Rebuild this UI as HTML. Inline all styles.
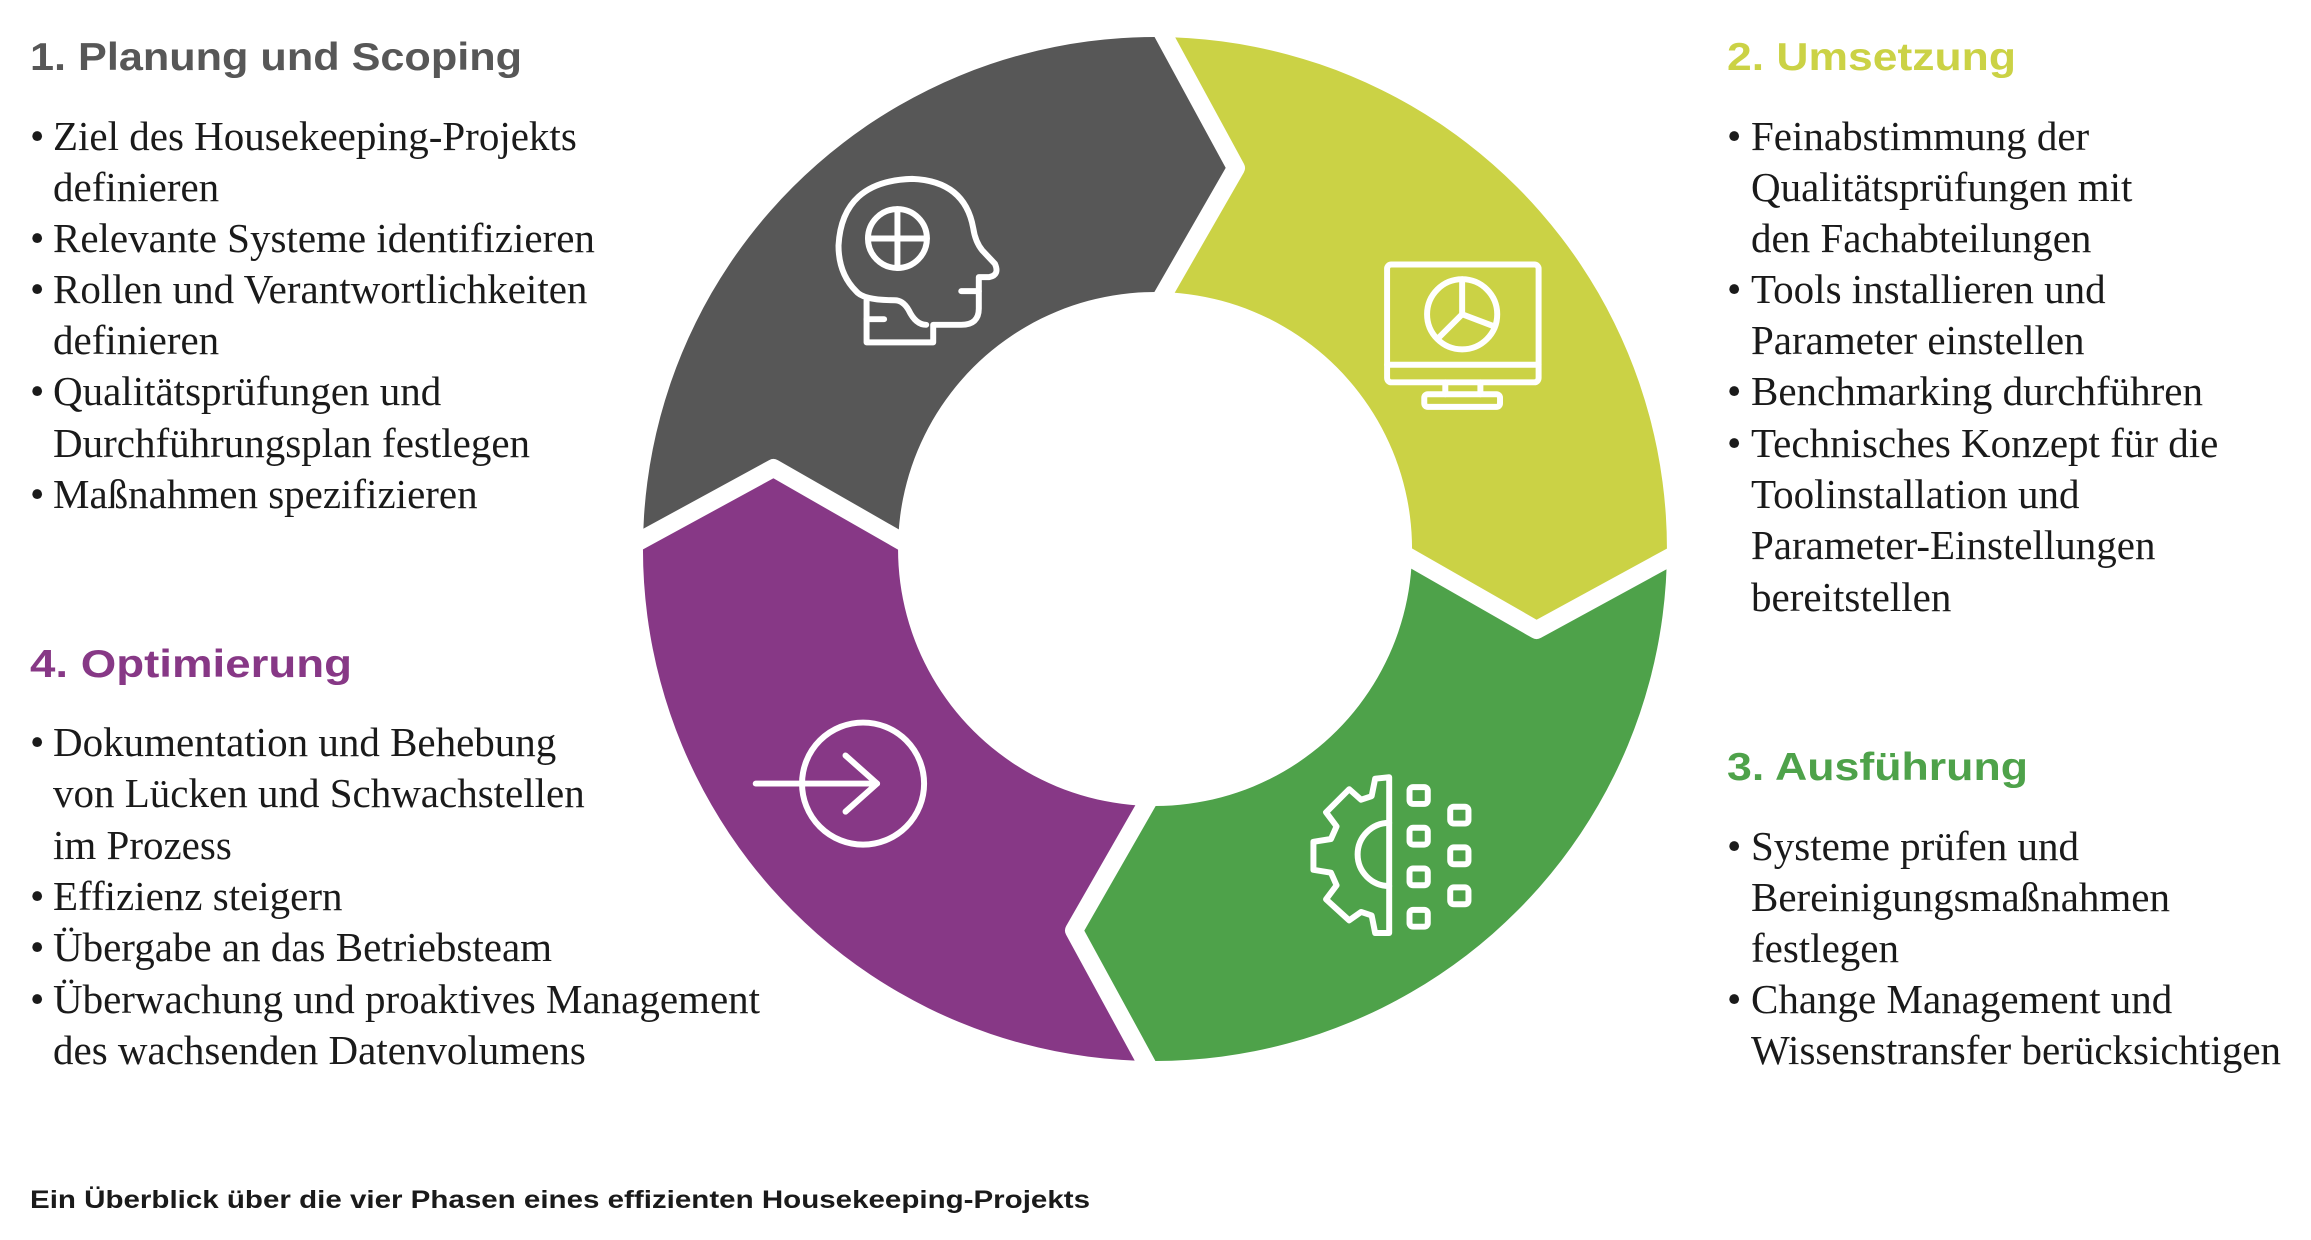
<!DOCTYPE html>
<html><head><meta charset="utf-8"><style>
html,body{margin:0;padding:0;background:#fff;width:2311px;height:1240px;overflow:hidden}
svg{display:block}
.h{font-family:"Liberation Sans",sans-serif;font-weight:bold;font-size:39px}
.b{font-family:"Liberation Serif",serif;font-size:41px;fill:#1a1a1a}
.c{font-family:"Liberation Sans",sans-serif;font-weight:bold;font-size:25px;fill:#1a1a1a}
</style></head><body>
<svg width="2311" height="1240" viewBox="0 0 2311 1240" xmlns="http://www.w3.org/2000/svg">
<defs><clipPath id="ring"><path clip-rule="evenodd" d="M1155,37 A512,512 0 1 1 1154.9,37 Z M1155,292 A257,257 0 1 0 1155.1,292 Z"/></clipPath></defs>
<g clip-path="url(#ring)">
<path fill="#575757" d="M915,549 L773.5,468 L625,549 A530,530 0 0 1 1155,19 L1236,168 L1155,309 A240,240 0 0 0 915,549 Z"/>
<path fill="#cbd245" d="M1155,309 L1236,168 L1155,19 A530,530 0 0 1 1685,549 L1536.5,630 L1395,549 A240,240 0 0 0 1155,309 Z"/>
<path fill="#4ea24a" d="M1395,549 L1536.5,630 L1685,549 A530,530 0 0 1 1155,1079 L1074,930.5 L1155,789 A240,240 0 0 0 1395,549 Z"/>
<path fill="#873886" d="M1155,789 L1074,930.5 L1155,1079 A530,530 0 0 1 625,549 L773.5,468 L915,549 A240,240 0 0 0 1155,789 Z"/>
</g>
<g fill="none" stroke="#fff" stroke-width="18" stroke-linejoin="round">
<polyline points="1155,309 1236,168 1155,19"/>
<polyline points="1395,549 1536.5,630 1685,549"/>
<polyline points="1155,789 1074,930.5 1155,1079"/>
<polyline points="915,549 773.5,468 625,549"/>
</g>
<g transform="translate(600,0) scale(0.7015)" fill="none" stroke="#fff" stroke-width="8.5" stroke-linejoin="round" stroke-linecap="round">
<circle cx="424" cy="340" r="42"/><line x1="382" y1="340" x2="466" y2="340"/><line x1="424" y1="298" x2="424" y2="382"/>
<path d="M380,428 L380,488 L475,488 L475,463 L515,463 Q540,463 540,440 L540,395 L555,395 Q570,392 563,376 L545,357 Q535,345 532,325 Q520,258 445,255 Q345,258 340,350 Q340,390 365,415 Q375,428 420,428 Q432,428 440,442 Q450,463 465,463"/>
<line x1="380" y1="455" x2="405" y2="455"/><line x1="515" y1="415" x2="540" y2="415"/>
<rect x="1122" y="377" width="216" height="168" rx="6"/><line x1="1122" y1="520" x2="1338" y2="520"/>
<line x1="1205" y1="545" x2="1205" y2="562"/><line x1="1255" y1="545" x2="1255" y2="562"/>
<rect x="1175" y="562" width="108" height="18" rx="5"/>
<circle cx="1229" cy="448" r="50"/><line x1="1229" y1="448" x2="1229" y2="398"/><line x1="1229" y1="448" x2="1274" y2="465"/><line x1="1229" y1="448" x2="1194" y2="483"/>
<path d="M1125,1108 L1105,1110 L1100,1135 L1085,1140 L1068,1125 L1035,1158 L1050,1178 L1042,1196 L1017,1200 L1017,1240 L1042,1244 L1050,1262 L1035,1282 L1068,1312 L1085,1300 L1100,1305 L1105,1330 L1125,1330 Z"/>
<path d="M1125,1173 A45,45 0 0 0 1125,1263"/>
<rect x="1154" y="1122" width="26" height="24" rx="5"/><rect x="1154" y="1180" width="26" height="24" rx="5"/><rect x="1154" y="1238" width="26" height="24" rx="5"/><rect x="1154" y="1297" width="26" height="24" rx="5"/>
<rect x="1212" y="1150" width="26" height="24" rx="5"/><rect x="1212" y="1208" width="26" height="24" rx="5"/><rect x="1212" y="1265" width="26" height="24" rx="5"/>
<circle cx="375" cy="1117" r="87"/><line x1="222" y1="1117" x2="395" y2="1117"/><polyline points="350,1077 395,1117 350,1157"/>
</g>
<text class="h" x="30" y="70" fill="#575757" textLength="492" lengthAdjust="spacingAndGlyphs">1. Planung und Scoping</text>
<text class="h" x="1727" y="70" fill="#cbd245" textLength="289" lengthAdjust="spacingAndGlyphs">2. Umsetzung</text>
<text class="h" x="1727" y="780" fill="#4ea24a" textLength="301" lengthAdjust="spacingAndGlyphs">3. Ausführung</text>
<text class="h" x="30" y="677" fill="#873886" textLength="322" lengthAdjust="spacingAndGlyphs">4. Optimierung</text>
<g class="b">
<text x="30" y="150">•</text><text x="53" y="150">Ziel des Housekeeping-Projekts</text>
<text x="53" y="201">definieren</text>
<text x="30" y="252">•</text><text x="53" y="252">Relevante Systeme identifizieren</text>
<text x="30" y="303">•</text><text x="53" y="303">Rollen und Verantwortlichkeiten</text>
<text x="53" y="354">definieren</text>
<text x="30" y="405">•</text><text x="53" y="405">Qualitätsprüfungen und</text>
<text x="53" y="457">Durchführungsplan festlegen</text>
<text x="30" y="508">•</text><text x="53" y="508">Maßnahmen spezifizieren</text>

<text x="30" y="756">•</text><text x="53" y="756">Dokumentation und Behebung</text>
<text x="53" y="807">von Lücken und Schwachstellen</text>
<text x="53" y="859">im Prozess</text>
<text x="30" y="910">•</text><text x="53" y="910">Effizienz steigern</text>
<text x="30" y="961">•</text><text x="53" y="961">Übergabe an das Betriebsteam</text>
<text x="30" y="1013">•</text><text x="53" y="1013">Überwachung und proaktives Management</text>
<text x="53" y="1064">des wachsenden Datenvolumens</text>

<text x="1727" y="150">•</text><text x="1751" y="150">Feinabstimmung der</text>
<text x="1751" y="201">Qualitätsprüfungen mit</text>
<text x="1751" y="252">den Fachabteilungen</text>
<text x="1727" y="303">•</text><text x="1751" y="303">Tools installieren und</text>
<text x="1751" y="354">Parameter einstellen</text>
<text x="1727" y="405">•</text><text x="1751" y="405">Benchmarking durchführen</text>
<text x="1727" y="457">•</text><text x="1751" y="457">Technisches Konzept für die</text>
<text x="1751" y="508">Toolinstallation und</text>
<text x="1751" y="559">Parameter-Einstellungen</text>
<text x="1751" y="611">bereitstellen</text>

<text x="1727" y="860">•</text><text x="1751" y="860">Systeme prüfen und</text>
<text x="1751" y="911">Bereinigungsmaßnahmen</text>
<text x="1751" y="962">festlegen</text>
<text x="1727" y="1013">•</text><text x="1751" y="1013">Change Management und</text>
<text x="1751" y="1064">Wissenstransfer berücksichtigen</text>
</g>
<text class="c" x="30" y="1208" textLength="1060" lengthAdjust="spacingAndGlyphs">Ein Überblick über die vier Phasen eines effizienten Housekeeping-Projekts</text>
</svg>
</body></html>
